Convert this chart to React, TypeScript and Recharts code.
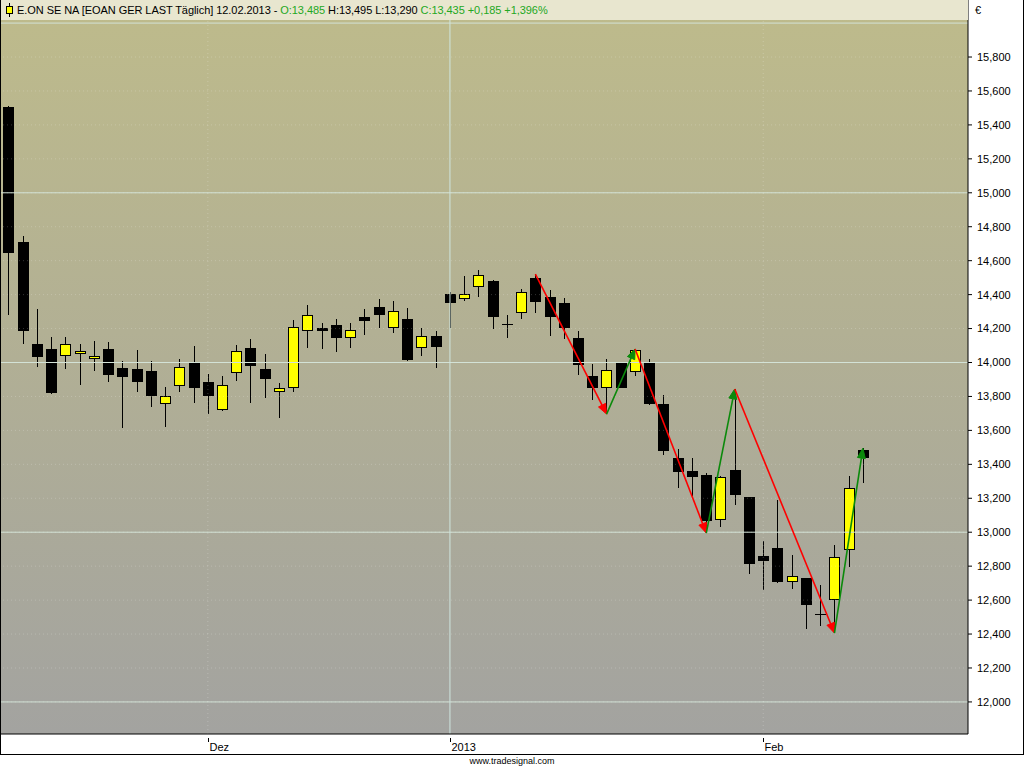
import React from 'react';
import { ComposedChart, Bar, XAxis, YAxis, ReferenceLine } from 'recharts';

// E.ON daily candles, 13.11.2012 - 12.02.2013 (index 0..60)
const opens = [15.504, 14.71, 14.109, 14.079, 14.04, 14.052, 14.019, 14.079, 13.967, 13.96, 13.95, 13.753, 13.86, 13.997, 13.885, 13.718, 13.936, 14.085, 13.962, 13.824, 13.851, 14.184, 14.203, 14.221, 14.146, 14.27, 14.327, 14.205, 14.256, 14.083, 14.156, 14.405, 14.376, 14.446, 14.48, 14.227, 14.29, 14.498, 14.386, 14.35, 14.144, 13.92, 13.851, 13.995, 13.946, 14.001, 13.755, 13.437, 13.36, 13.335, 13.072, 13.366, 13.205, 12.86, 12.905, 12.705, 12.728, 12.516, 12.6, 12.893, 13.485];
const highs = [15.513, 14.747, 14.315, 14.148, 14.148, 14.109, 14.128, 14.119, 14.009, 14.073, 14.009, 13.857, 14.022, 14.099, 13.932, 13.92, 14.103, 14.14, 14.05, 13.881, 14.25, 14.339, 14.234, 14.254, 14.234, 14.315, 14.374, 14.364, 14.321, 14.203, 14.187, 14.413, 14.511, 14.545, 14.486, 14.28, 14.431, 14.521, 14.427, 14.38, 14.185, 13.991, 14.02, 13.998, 14.08, 14.02, 13.808, 13.488, 13.439, 13.347, 13.331, 13.844, 13.207, 12.948, 13.19, 12.865, 12.73, 12.689, 12.924, 13.331, 13.495];
const lows = [14.28, 14.109, 13.975, 13.815, 13.961, 13.867, 13.951, 13.885, 13.616, 13.828, 13.739, 13.618, 13.828, 13.763, 13.694, 13.712, 13.893, 13.763, 13.789, 13.674, 13.828, 14.085, 14.078, 14.063, 14.085, 14.164, 14.205, 14.175, 14.01, 14.038, 13.969, 14.205, 14.36, 14.388, 14.195, 14.142, 14.254, 14.29, 14.156, 14.138, 13.926, 13.779, 13.696, 13.848, 13.92, 13.75, 13.455, 13.262, 13.213, 12.995, 13.029, 13.16, 12.753, 12.659, 12.7, 12.665, 12.429, 12.447, 12.406, 12.797, 13.29];
const closes = [14.645, 14.187, 14.034, 13.822, 14.107, 14.067, 14.038, 13.928, 13.916, 13.887, 13.804, 13.802, 13.973, 13.851, 13.804, 13.867, 14.067, 13.979, 13.901, 13.85, 14.207, 14.28, 14.185, 14.146, 14.191, 14.244, 14.28, 14.303, 14.016, 14.154, 14.093, 14.352, 14.403, 14.515, 14.266, 14.227, 14.413, 14.354, 14.27, 14.205, 13.985, 13.851, 13.954, 13.85, 14.075, 13.755, 13.48, 13.355, 13.323, 13.068, 13.327, 13.221, 12.811, 12.832, 12.705, 12.74, 12.573, 12.516, 12.855, 13.258, 13.435];

// month starts on the time axis
const monthTicks = [14, 31, 53];
const monthLabels = ['Dez', '2013', 'Feb'];

// price axis
const priceTicks = [12.0, 12.2, 12.4, 12.6, 12.8, 13.0, 13.2, 13.4, 13.6, 13.8, 14.0, 14.2, 14.4, 14.6, 14.8, 15.0, 15.2, 15.4, 15.6, 15.8];
const majorLevels = [12, 13, 14, 15, 16];

// zigzag swing points (candle index, price)
const swingIdx = [37, 42, 44, 49, 51, 58, 60];
const swingPrice = [14.521, 13.696, 14.08, 12.995, 13.844, 12.406, 13.495];

const data = opens.map((o, i) => ({ i, o, h: highs[i], l: lows[i], c: closes[i] }));

const FONT = '"Liberation Sans", Arial, sans-serif';
const GREEN = '#23a823';

const fmt = (v: number) => v.toFixed(3).replace('.', ',');

const Candle = (props: any) => {
  const { x, y, width, height, payload } = props;
  const { o, h, l, c } = payload;
  const k = height / (h - l);
  const py = (p: number) => y + (h - p) * k;
  const left = Math.round(x);
  const w = Math.round(width);
  const cx = left + Math.floor(w / 2) + 0.5;
  const top = Math.round(py(Math.max(o, c)));
  const bot = Math.round(py(Math.min(o, c)));
  const wickTop = Math.round(py(h));
  const wickBot = Math.round(py(l));
  let body;
  if (o === c) {
    body = <line x1={left} x2={left + w} y1={top + 0.5} y2={top + 0.5} stroke="#000" />;
  } else if (c < o) {
    body = <rect x={left} y={top} width={w} height={Math.max(bot - top, 1)} fill="#000" />;
  } else {
    body = (
      <rect x={left + 0.5} y={top + 0.5} width={w - 1} height={Math.max(bot - top - 1, 1)} fill="#ffff00" stroke="#000" />
    );
  }
  return (
    <g>
      <line x1={cx} x2={cx} y1={wickTop} y2={wickBot} stroke="#000" />
      {body}
    </g>
  );
};

const Arrow = (color: string) => (props: any) => {
  const { x1, y1, x2, y2 } = props;
  const ang = Math.atan2(y2 - y1, x2 - x1);
  const len = 10;
  const half = 4;
  const bx = x2 - len * Math.cos(ang);
  const by = y2 - len * Math.sin(ang);
  const nx = -Math.sin(ang) * half;
  const ny = Math.cos(ang) * half;
  return (
    <g>
      <line x1={x1} y1={y1} x2={bx} y2={by} stroke={color} strokeWidth={1.6} />
      <path d={`M${x2},${y2} L${bx + nx},${by + ny} L${bx - nx},${by - ny} Z`} fill={color} stroke={color} strokeWidth={1} />
    </g>
  );
};

const MonthTick = (props: any) => {
  const { x, y, payload } = props;
  const idx = monthTicks.indexOf(payload.value);
  const tx = Math.round(x) + 0.5;
  return (
    <g>
      <line x1={tx} x2={tx} y1={y + 4} y2={y + 8} stroke="#000" />
      <text x={tx + 1} y={y + 17} fontSize={11} fontFamily={FONT} fill="#000" textAnchor="start">
        {monthLabels[idx]}
      </text>
    </g>
  );
};

export default function App() {
  return (
    <div style={{ position: 'absolute', left: 0, top: 0, width: 1024, height: 768, background: '#fff', overflow: 'hidden' }}>
      <div
        style={{
          position: 'absolute',
          left: 1,
          top: 0,
          width: 967,
          height: 734,
          background: 'linear-gradient(to bottom, #bebb8b 0%, #b2b094 45%, #a3a3a0 100%)',
        }}
      />
      <div style={{ position: 'absolute', left: 0, top: 0 }}>
        <ComposedChart width={1024} height={768} data={data} margin={{ top: 0, right: 3, left: 1, bottom: 14 }}>
          <XAxis
            dataKey="i"
            type="number"
            domain={[-0.527, 67.38]}
            allowDataOverflow
            ticks={monthTicks}
            tick={<MonthTick />}
            tickLine={false}
            tickSize={0}
            tickMargin={0}
            axisLine={{ stroke: '#000' }}
            height={20}
          />
          <YAxis
            orientation="right"
            type="number"
            domain={[11.811, 16.136]}
            allowDataOverflow
            ticks={priceTicks}
            tickFormatter={fmt}
            tick={{ fontSize: 11, fill: '#000', fontFamily: FONT }}
            tickLine={{ stroke: '#000' }}
            tickSize={4}
            tickMargin={5}
            axisLine={{ stroke: '#000' }}
            width={53}
            interval={0}
          />
          {priceTicks.map((p) => (
            <ReferenceLine key={'d' + p} y={p} stroke="rgba(255,255,255,0.2)" strokeDasharray="1 3" />
          ))}
          {majorLevels.map((p) => (
            <ReferenceLine key={'m' + p} y={p} stroke="#d3e2d6" strokeWidth={1} />
          ))}
          {monthTicks.map((t, k) =>
            monthLabels[k] === '2013' ? (
              <ReferenceLine key={'v' + t} x={t} stroke="#cfe6e0" />
            ) : (
              <ReferenceLine key={'v' + t} x={t} stroke="rgba(255,255,255,0.22)" strokeDasharray="1 3" />
            )
          )}
          <Bar dataKey={(d: any) => [d.l, d.h]} barSize={11} shape={<Candle />} isAnimationActive={false} />
          {swingIdx.slice(1).map((t, k) => {
            const p0 = swingPrice[k];
            const p1 = swingPrice[k + 1];
            const color = p1 < p0 ? '#ff0000' : '#0b8a0b';
            return (
              <ReferenceLine
                key={'z' + t}
                segment={[
                  { x: swingIdx[k], y: p0 },
                  { x: t, y: p1 },
                ]}
                shape={Arrow(color)}
              />
            );
          })}
        </ComposedChart>
      </div>
      {/* title bar */}
      <div
        style={{
          position: 'absolute',
          left: 1,
          top: 0,
          width: 967,
          height: 20,
          background: '#e8e6cf',
          fontFamily: FONT,
          fontSize: 11,
          lineHeight: '20px',
          whiteSpace: 'nowrap',
        }}
      >
        <svg width={14} height={20} style={{ position: 'absolute', left: 2, top: 0 }}>
          <line x1={6.5} x2={6.5} y1={3} y2={17} stroke="#000" />
          <rect x={3.5} y={6.5} width={6} height={7} fill="#ffff00" stroke="#000" />
        </svg>
        <span style={{ position: 'absolute', left: 16, top: 0, color: '#000', letterSpacing: '-0.06px' }}>
          E.ON SE NA [EOAN GER LAST Täglich] 12.02.2013 - <span style={{ color: GREEN }}>O:13,485</span> H:13,495 L:13,290{' '}
          <span style={{ color: GREEN }}>C:13,435 +0,185 +1,396%</span>
        </span>
      </div>
      <div style={{ position: 'absolute', left: 975, top: 3, fontFamily: FONT, fontSize: 11, lineHeight: '14px' }}>€</div>
      {/* frame */}
      <div
        style={{
          position: 'absolute',
          left: 0,
          top: 0,
          width: 1024,
          height: 755,
          borderLeft: '1px solid #000',
          borderRight: '1px solid #000',
          borderBottom: '1px solid #000',
          boxSizing: 'border-box',
          pointerEvents: 'none',
        }}
      />
      <div
        style={{
          position: 'absolute',
          left: 0,
          width: 1024,
          top: 756,
          textAlign: 'center',
          fontFamily: FONT,
          fontSize: 9,
          lineHeight: '10px',
          color: '#000',
          paddingRight: 2,
        }}
      >
        www.tradesignal.com
      </div>
    </div>
  );
}
